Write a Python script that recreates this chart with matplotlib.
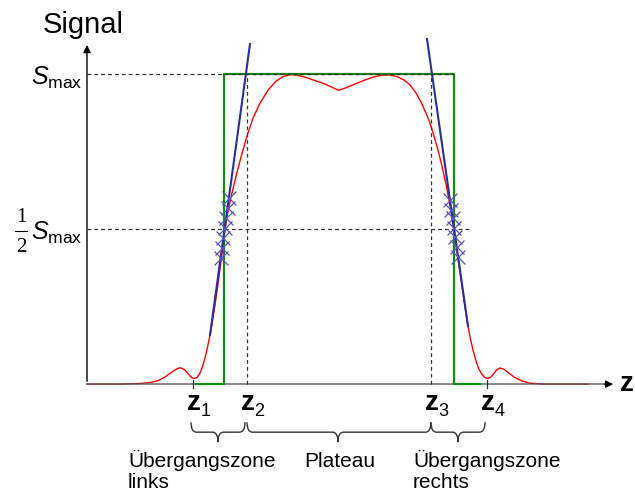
import numpy as np
import matplotlib.pyplot as plt
from matplotlib.path import Path
import matplotlib.patches as mpatches

plt.rcParams['font.family'] = ['Liberation Sans', 'DejaVu Sans']
plt.rcParams['mathtext.fontset'] = 'custom'
plt.rcParams['mathtext.rm'] = 'Liberation Sans'
plt.rcParams['mathtext.it'] = 'Liberation Sans:italic'
plt.rcParams['mathtext.bf'] = 'Liberation Sans:bold'

#%% data (z in arbitrary units, signal normalised to S_max = 1)

# measured signal (red)
z_sig = [0.0, 3.3, 5.3, 6.3, 7.1, 7.8, 8.4, 8.9, 9.3, 9.7, 10.1, 10.4, 10.7, 11.0,
         11.3, 11.6, 11.9, 12.2, 12.5, 12.8, 13.1, 13.4, 13.7, 14.0, 14.4, 14.9,
         15.4, 16.0, 16.6, 17.3, 18.1, 18.9, 19.6, 20.3, 21.0, 21.8, 22.8, 23.8,
         24.6, 25.2, 25.9, 26.8, 27.8, 28.8, 29.6, 30.3, 31.0, 31.7, 32.3, 32.9,
         33.4, 33.9, 34.3, 34.7, 35.1, 35.5, 35.9, 36.2, 36.5, 36.8, 37.1, 37.4,
         37.7, 38.0, 38.3, 38.6, 38.9, 39.2, 39.5, 39.8, 40.1, 40.4, 40.7, 41.0,
         41.3, 41.7, 42.2, 42.8, 43.5, 44.3, 45.8, 50.1]
s_sig = [0.0, 0.0, 0.002, 0.005, 0.011, 0.023, 0.037, 0.048, 0.053, 0.048, 0.034,
         0.023, 0.018, 0.021, 0.035, 0.061, 0.097, 0.142, 0.194, 0.255, 0.323,
         0.397, 0.474, 0.542, 0.603, 0.671, 0.732, 0.800, 0.858, 0.906, 0.948,
         0.977, 0.992, 0.998, 0.997, 0.990, 0.979, 0.968, 0.956, 0.948, 0.956,
         0.968, 0.981, 0.992, 0.997, 0.997, 0.992, 0.981, 0.965, 0.939, 0.910,
         0.874, 0.842, 0.800, 0.755, 0.703, 0.645, 0.594, 0.535, 0.471, 0.406,
         0.339, 0.271, 0.206, 0.152, 0.110, 0.074, 0.048, 0.031, 0.021, 0.018,
         0.023, 0.035, 0.047, 0.052, 0.048, 0.035, 0.021, 0.010, 0.003, 0.0, 0.0]

# ideal profile (green)
z_rect = [10.9, 13.7, 13.7, 36.65, 36.65, 39.3]
s_rect = [0, 0, 1, 1, 0, 0]

# tangents at the flanks (blue)
z_tan_l = [12.3, 16.3]
s_tan_l = [0.158, 1.097]
z_tan_r = [34.0, 38.1]
s_tan_r = [1.113, 0.187]

# points used for the tangents
z_pts_l = [14.18, 14.05, 13.91, 13.77, 13.63, 13.50, 13.36]
s_pts_l = [0.600, 0.568, 0.535, 0.503, 0.471, 0.439, 0.406]
z_pts_r = [36.30, 36.44, 36.56, 36.70, 36.83, 36.97, 37.11]
s_pts_r = [0.594, 0.561, 0.535, 0.503, 0.474, 0.442, 0.410]

# z marks
z_marks = [10.6, 16.0, 34.4, 40.0]
z_index = ['1', '2', '3', '4']

# zones
zone_start = [10.4, 16.0, 34.4]
zone_end = [15.8, 34.4, 39.8]
zone_tip = [13.1, 25.1, 37.1]
zone_text = [['Übergangszone', 'links'], ['Plateau'], ['Übergangszone', 'rechts']]
zone_text_x = [4.1, 25.3, 32.6]
zone_text_ha = ['left', 'center', 'left']

#%% figure

fig = plt.figure(figsize=(6.35, 4.92), dpi=100)
ax = fig.add_axes([0, 0, 1, 1])
ax.set_xlim(-8.7, 54.8)
ax.set_ylim(-0.348, 1.239)
ax.set_axis_off()

dash = dict(color='#333333', lw=0.9, dashes=(3, 2.5))

# signal
ax.plot(z_sig, s_sig, color='#ff0000', lw=1.0, zorder=2)

# axes
ax.plot([0, 52.2], [0, 0], color='#555555', lw=1.2, alpha=0.8, zorder=3)
ax.annotate('', xy=(52.9, 0), xytext=(51.5, 0),
            arrowprops=dict(arrowstyle='-|>', color='black', lw=1, mutation_scale=11))
ax.annotate('', xy=(0, 1.103), xytext=(0, 0),
            arrowprops=dict(arrowstyle='-|>', color='black', lw=1, mutation_scale=11))

# ideal profile
ax.plot(z_rect, s_rect, color='#138a13', lw=1.6, zorder=4)

# helper lines
ax.plot([0, z_rect[3]], [1, 1], zorder=5, **dash)
ax.plot([0, 38.3], [0.5, 0.5], zorder=5, **dash)
ax.plot([z_marks[1], z_marks[1]], [0, 1], zorder=5, **dash)
ax.plot([z_marks[2], z_marks[2]], [0, 1], zorder=5, **dash)
for zm in [z_marks[0], z_marks[3]]:
    ax.plot([zm, zm], [-0.012, 0.012], color='#333333', lw=0.9, zorder=5)

# tangents + points
ax.plot(z_tan_l, s_tan_l, color='#2e2e99', lw=1.5, zorder=6)
ax.plot(z_tan_r, s_tan_r, color='#2e2e99', lw=1.5, zorder=6)
ax.plot(z_pts_l, s_pts_l, ls='none', marker='x', ms=9.5, mew=0.9, color='#5555bb', zorder=7)
ax.plot(z_pts_r, s_pts_r, ls='none', marker='x', ms=9.5, mew=0.9, color='#5555bb', zorder=7)

# labels
ax.text(-4.4, 1.132, 'Signal', fontsize=21, ha='left', va='baseline')
ax.text(-0.4, 0.965, r'$S_{\mathrm{max}}$', fontsize=18, ha='right', va='baseline')
ax.text(-0.4, 0.465, r'$S_{\mathrm{max}}$', fontsize=18, ha='right', va='baseline')
ax.text(-6.6, 0.523, '1', fontsize=15, family='Liberation Serif', ha='center', va='baseline')
ax.text(-6.6, 0.425, '2', fontsize=15, family='Liberation Serif', ha='center', va='baseline')
ax.plot([-7.2, -6.0], [0.494, 0.494], color='black', lw=0.8)

for zm, idx in zip(z_marks, z_index):
    ax.text(zm - 0.6, -0.084, 'z', fontsize=20, fontweight='bold', ha='left', va='baseline')
    ax.text(zm + 0.75, -0.103, idx, fontsize=13, ha='left', va='baseline')
ax.text(53.25, 0, 'z', fontsize=20, fontweight='bold', ha='left', va='center')

# braces
ytop, ymid, ybot, r = -0.123, -0.155, -0.187, 0.55
codes = [Path.MOVETO, Path.CURVE3, Path.CURVE3, Path.LINETO, Path.CURVE3, Path.CURVE3,
         Path.CURVE3, Path.CURVE3, Path.LINETO, Path.CURVE3, Path.CURVE3]
for x0, x1, xm in zip(zone_start, zone_end, zone_tip):
    verts = [(x0, ytop), (x0, ymid), (x0 + r, ymid), (xm - r, ymid), (xm, ymid), (xm, ybot),
             (xm, ymid), (xm + r, ymid), (x1 - r, ymid), (x1, ymid), (x1, ytop)]
    ax.add_patch(mpatches.PathPatch(Path(verts, codes), fc='none', ec='#333333', lw=1.0))

for lines, xt, ha in zip(zone_text, zone_text_x, zone_text_ha):
    for i, line in enumerate(lines):
        ax.text(xt, -0.268 - 0.068 * i, line, fontsize=15, ha=ha, va='baseline')

fig.savefig('out.png', dpi=100)
